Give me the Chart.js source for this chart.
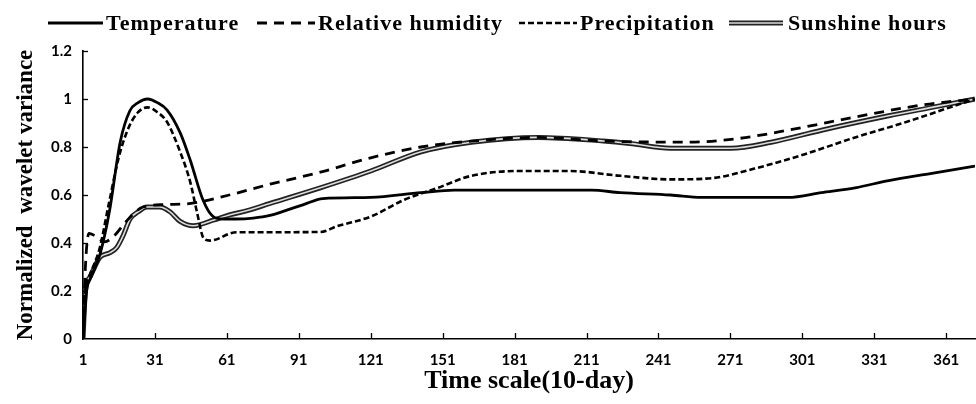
<!DOCTYPE html>
<html>
<head>
<meta charset="utf-8">
<script src="https://cdn.jsdelivr.net/npm/chart.js@4.4.1/dist/chart.umd.min.js"></script>
<style>
  html, body { margin: 0; padding: 0; background: #fff; }
  canvas { display: block; }
</style>
</head>
<body>
<canvas id="c" width="976" height="404"></canvas>
<script>
// ---- data ----
const legendLabels = ['Temperature', 'Relative humidity', 'Precipitation', 'Sunshine hours'];
const xTickValues = [1, 31, 61, 91, 121, 151, 181, 211, 241, 271, 301, 331, 361];
const yTickValues = [0, 0.2, 0.4, 0.6, 0.8, 1, 1.2];
const xTitle = 'Time scale(10-day)';
const yTitle = 'Normalized  wavelet variance';

const tempX = [1, 2.5, 4, 8, 12, 16.5, 20.5, 24, 28, 32, 36, 41.5, 45.7, 51, 55.3, 59.5, 65, 72, 79, 86, 93, 101, 121, 142, 156, 185, 213, 225, 246, 259, 295, 309, 323, 337, 355, 373];
const tempY = [0, 0.2, 0.25, 0.35, 0.53, 0.82, 0.95, 0.985, 1.0, 0.985, 0.955, 0.86, 0.746, 0.58, 0.51, 0.50, 0.50, 0.504, 0.515, 0.537, 0.56, 0.585, 0.59, 0.61, 0.62, 0.62, 0.62, 0.61, 0.60, 0.59, 0.59, 0.61, 0.63, 0.66, 0.69, 0.72];

const rhX = [1, 2, 3.5, 6, 10, 14, 19, 26, 35, 46, 62, 79, 100, 121, 142, 170, 191, 218, 253, 274, 295, 323, 351, 373];
const rhY = [0, 0.3, 0.44, 0.43, 0.405, 0.43, 0.49, 0.55, 0.56, 0.565, 0.60, 0.645, 0.695, 0.755, 0.80, 0.83, 0.84, 0.825, 0.82, 0.835, 0.87, 0.925, 0.975, 1.0];

const precX = [1, 2, 4, 8, 11.5, 16, 20, 24, 28, 32, 36, 41.5, 45.7, 48.5, 51.3, 54, 65, 80, 100, 107, 121, 135, 149, 163, 183, 204, 225, 246, 263, 281, 302, 323, 343, 364, 373];
const precY = [0, 0.2, 0.27, 0.38, 0.55, 0.76, 0.88, 0.945, 0.965, 0.945, 0.905, 0.78, 0.655, 0.53, 0.42, 0.41, 0.445, 0.445, 0.446, 0.47, 0.51, 0.58, 0.63, 0.68, 0.70, 0.70, 0.68, 0.665, 0.67, 0.71, 0.77, 0.84, 0.90, 0.97, 1.0];

const sunX = [1, 2, 4, 8, 12.3, 15, 17.7, 20.6, 24, 27.7, 33, 37.3, 41.5, 47, 55.3, 62, 69.5, 79, 100, 121, 142, 163, 191, 218, 229, 246, 271, 288, 309, 337, 355, 373];
const sunY = [0, 0.2, 0.26, 0.34, 0.36, 0.38, 0.43, 0.50, 0.53, 0.55, 0.55, 0.53, 0.49, 0.472, 0.495, 0.517, 0.535, 0.565, 0.63, 0.70, 0.78, 0.82, 0.84, 0.825, 0.815, 0.795, 0.795, 0.82, 0.87, 0.93, 0.965, 1.0];

const pts = (xs, ys) => xs.map((x, i) => ({ x: x, y: ys[i] }));

// ---- styles ----
const serifBold = '"Liberation Serif", "Times New Roman", serif';
const tickFont = { family: 'Lato, "Liberation Sans", sans-serif', size: 15, weight: 'bold' };

const legendItems = [
  { x0: 48, x1: 103, tx: 106, kind: 'solid' },
  { x0: 257, x1: 315, tx: 318, kind: 'long' },
  { x0: 519, x1: 577, tx: 580, kind: 'short' },
  { x0: 729, x1: 783, tx: 788, kind: 'double' }
];

function strokeSample(ctx, kind, x0, x1, y) {
  ctx.save();
  ctx.lineCap = 'butt';
  const seg = (w, col, dash) => {
    ctx.beginPath();
    ctx.setLineDash(dash);
    ctx.lineWidth = w;
    ctx.strokeStyle = col;
    ctx.moveTo(x0, y);
    ctx.lineTo(x1, y);
    ctx.stroke();
  };
  if (kind === 'solid') seg(2.8, '#000', []);
  else if (kind === 'long') seg(2.8, '#000', [10, 7]);
  else if (kind === 'short') seg(2.6, '#000', [6, 3]);
  else { seg(5, '#222', []); seg(1.6, '#ddd', []); }
  ctx.restore();
}

const decorPlugin = {
  id: 'decor',
  afterDraw(chart) {
    const ctx = chart.ctx;
    const xs = chart.scales.x, ys = chart.scales.y;
    const area = chart.chartArea;
    // inward tick marks
    ctx.save();
    ctx.strokeStyle = '#000';
    ctx.lineWidth = 1.3;
    xTickValues.forEach(v => {
      if (v === xTickValues[0]) return;
      const px = Math.round(xs.getPixelForValue(v)) + 0.5;
      ctx.beginPath();
      ctx.moveTo(px, area.bottom);
      ctx.lineTo(px, area.bottom - 6);
      ctx.stroke();
    });
    yTickValues.forEach(v => {
      if (v === 0) return;
      const py = Math.round(ys.getPixelForValue(v)) + 0.5;
      ctx.beginPath();
      ctx.moveTo(area.left, py);
      ctx.lineTo(area.left + 5, py);
      ctx.stroke();
    });
    ctx.restore();
    // legend
    ctx.save();
    ctx.font = 'bold 22px ' + serifBold;
    ctx.fillStyle = '#000';
    ctx.textBaseline = 'alphabetic';
    if ('letterSpacing' in ctx) ctx.letterSpacing = '1px';
    const ly = 23;
    legendItems.forEach((it, i) => {
      strokeSample(ctx, it.kind, it.x0, it.x1, ly);
      ctx.fillText(legendLabels[i], it.tx, 30);
    });
    ctx.restore();
  }
};

const base = { pointRadius: 0, pointHoverRadius: 0, fill: false, cubicInterpolationMode: 'monotone', borderCapStyle: 'butt' };

new Chart(document.getElementById('c'), {
  type: 'line',
  data: {
    datasets: [
      Object.assign({}, base, { label: legendLabels[0], data: pts(tempX, tempY), borderColor: '#000', borderWidth: 2.8, order: 0 }),
      Object.assign({}, base, { label: legendLabels[1], data: pts(rhX, rhY), borderColor: '#000', borderWidth: 2.8, borderDash: [10, 7], order: 1 }),
      Object.assign({}, base, { label: legendLabels[2], data: pts(precX, precY), borderColor: '#000', borderWidth: 2.6, borderDash: [6, 3], order: 2 }),
      Object.assign({}, base, { label: legendLabels[3], data: pts(sunX, sunY), borderColor: '#ddd', borderWidth: 1.6, order: 3 }),
      Object.assign({}, base, { label: legendLabels[3] + ' outline', data: pts(sunX, sunY), borderColor: '#222', borderWidth: 5, order: 4 })
    ]
  },
  options: {
    responsive: false,
    animation: false,
    events: [],
    layout: { padding: { top: 51, right: 1, left: 0, bottom: 0 } },
    plugins: { legend: { display: false }, tooltip: { enabled: false } },
    scales: {
      x: {
        type: 'linear',
        min: 1,
        max: 373,
        afterBuildTicks: s => { s.ticks = xTickValues.map(v => ({ value: v })); },
        afterFit: s => { s.height = 65; },
        grid: { display: false, drawTicks: false },
        border: { display: true, color: '#000', width: 1.6 },
        ticks: { autoSkip: false, maxRotation: 0, padding: 12, color: '#000', font: tickFont, callback: v => String(v) },
        title: { display: true, text: xTitle, color: '#000', font: { family: serifBold, size: 26, weight: 'bold' }, padding: { top: 0, bottom: 7 } }
      },
      y: {
        min: 0,
        max: 1.2,
        afterBuildTicks: s => { s.ticks = yTickValues.map(v => ({ value: v })); },
        afterFit: s => { s.width = 83; },
        grid: { display: false, drawTicks: false },
        border: { display: true, color: '#000', width: 1.6 },
        ticks: { padding: 11, color: '#000', font: tickFont, callback: v => String(Math.round(v * 10) / 10) },
        title: { display: true, text: yTitle, color: '#000', font: { family: serifBold, size: 23, weight: 'bold' }, padding: { top: 12, bottom: 0 } }
      }
    }
  },
  plugins: [decorPlugin]
});
</script>
</body>
</html>
